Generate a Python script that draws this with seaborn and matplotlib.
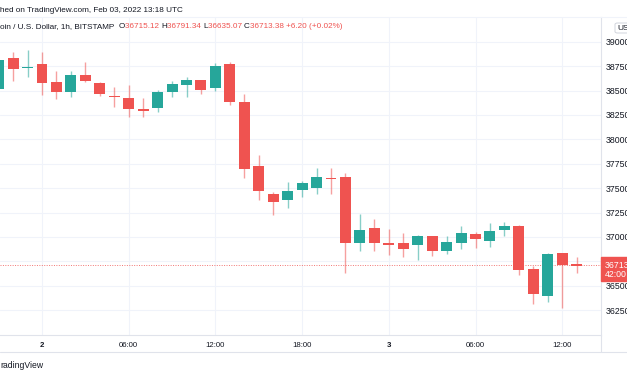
import matplotlib
matplotlib.use("Agg")
import matplotlib.pyplot as plt
from matplotlib.lines import Line2D
from matplotlib.patches import Rectangle, FancyBboxPatch
import numpy as np
import pandas as pd
import seaborn as sns

# BTC/USD 1h candles, hours counted from Feb 2 00:00 UTC
hours = list(range(-3, 38))
opens = [38515, 38830, 38733, 38768, 38584, 38481, 38659, 38574, 38444, 38426,
         38310, 38323, 38488, 38556, 38604, 38522, 38768, 38385, 37723, 37436,
         37377, 37480, 37497, 37606, 37610, 36940, 37087, 36934, 36934, 36916,
         37008, 36855, 36934, 37029, 36957, 37070, 37114, 36670, 36397, 36831,
         36715.12]
highs = [38830, 38891, 38915, 38891, 38703, 38700, 38789, 38584, 38533, 38556,
         38420, 38505, 38597, 38638, 38604, 38779, 38795, 38461, 37839, 37456,
         37565, 37575, 37702, 37702, 37651, 37234, 37180, 37080, 37036, 37016,
         37008, 37008, 37114, 37046, 37145, 37149, 37121, 36701, 36831, 36831,
         36791.34]
lows = [38500, 38597, 38641, 38454, 38410, 38436, 38590, 38447, 38334, 38225,
        38225, 38282, 38430, 38430, 38464, 38498, 38351, 37606, 37377, 37224,
        37299, 37411, 37436, 37436, 36632, 36855, 36855, 36814, 36796, 36760,
        36804, 36821, 36875, 36882, 36899, 37012, 36609, 36311, 36329, 36273,
        36635.07]
closes = [38812, 38720, 38742, 38580, 38481, 38659, 38597, 38464, 38430, 38307,
          38292, 38488, 38563, 38604, 38502, 38751, 38385, 37692, 37470, 37360,
          37470, 37548, 37610, 37590, 36934, 37070, 36934, 36917, 36875, 37008,
          36855, 36950, 37036, 36975, 37063, 37111, 36660, 36411, 36821, 36707.18,
          36713.38]

price_ticks = [36250, 36500, 36750, 37000, 37250, 37500, 37750, 38000, 38250, 38500, 38750, 39000]
time_ticks = [0, 6, 12, 18, 24, 30, 36]
time_labels = ["2", "06:00", "12:00", "18:00", "3", "06:00", "12:00"]

UP = "#26a69a"
DOWN = "#ef5350"
TXT = "#131722"
GRID = "#f0f3fa"
BORDER = "#e0e3eb"

sns.set_theme(style="white")
plt.rcParams["font.family"] = ["Liberation Sans", "DejaVu Sans"]

W, H = 627, 376
fig = plt.figure(figsize=(6.27, 3.76), dpi=100)
fig.patch.set_facecolor("white")


def fx(px):
    return px / W


def fy(py):
    return 1 - py / H


# pane geometry (pixels)
PANE_TOP, PANE_BOTTOM, PANE_RIGHT = 17, 335, 601
ax = fig.add_axes([0, fy(PANE_BOTTOM), fx(PANE_RIGHT), (PANE_BOTTOM - PANE_TOP) / H])
ax.set_facecolor("white")

px_per_hour = 14.45
x_day2 = 42
ax.set_xlim(-x_day2 / px_per_hour, (PANE_RIGHT - x_day2) / px_per_hour)
usd_per_px = 250 / 24.4
y_39000 = 41.7
ax.set_ylim(39000 - (PANE_BOTTOM - y_39000) * usd_per_px, 39000 + (y_39000 - PANE_TOP) * usd_per_px)

df = pd.DataFrame({"hour": hours, "open": opens, "high": highs, "low": lows, "close": closes})
df["up"] = df["close"] >= df["open"]
body_col = np.where(df["up"], UP, DOWN)
body_h = np.maximum((df["close"] - df["open"]).abs(), 14)
body_bot = np.minimum(df["open"], df["close"])
body_bot = np.where((df["close"] - df["open"]).abs() < 14, body_bot - 7, body_bot)

ax.vlines(df["hour"], df["low"], df["high"], colors=body_col, lw=1, alpha=0.55, zorder=2)
ax.bar(df["hour"], body_h, bottom=body_bot, width=0.76, color=body_col, lw=0, zorder=3)

# last price line
ax.axhline(closes[-1], color=DOWN, lw=0.7, ls=(0, (1, 1.5)), alpha=0.8, zorder=1)

# grid + axes
ax.set_yticks(price_ticks)
ax.set_xticks(time_ticks)
ax.grid(True, color=GRID, lw=0.8, zorder=0)
ax.yaxis.tick_right()
ax.set_yticklabels([f"{p:.2f}" for p in price_ticks])
ax.set_xticklabels(time_labels)
ax.tick_params(axis="y", length=0, pad=3.5, labelsize=6.3, labelcolor=TXT)
ax.tick_params(axis="x", length=0, pad=5, labelsize=5.6, labelcolor=TXT)
for lab in ax.get_xticklabels():
    if lab.get_text() in ("2", "3"):
        lab.set_fontweight("bold")
for side in ("left", "top"):
    ax.spines[side].set_visible(False)
for side in ("bottom", "right"):
    ax.spines[side].set_color(BORDER)
    ax.spines[side].set_linewidth(0.8)

# chart frame below the time scale
fig.add_artist(Line2D([0, 1], [fy(352), fy(352)], color=BORDER, lw=0.8, transform=fig.transFigure))
fig.add_artist(Line2D([fx(PANE_RIGHT), fx(PANE_RIGHT)], [fy(PANE_BOTTOM), fy(352)],
                      color=BORDER, lw=0.8, transform=fig.transFigure))
fig.add_artist(Line2D([0, 1], [fy(PANE_TOP), fy(PANE_TOP)], color=GRID, lw=0.8, transform=fig.transFigure))

# last price label on the price scale
fig.add_artist(Rectangle((fx(PANE_RIGHT), fy(281)), fx(W - PANE_RIGHT), 24 / H,
                         transform=fig.transFigure, color=DOWN, zorder=5))
fig.text(fx(605), fy(266), f"{closes[-1]:.2f}", color="white", fontsize=6.3, va="center", zorder=6)
fig.text(fx(605), fy(274.5), "42:00", color="white", fontsize=6.3, va="center", zorder=6)

# currency button
fig.add_artist(FancyBboxPatch((fx(615), fy(33)), fx(16), 10 / H, boxstyle="round,pad=0,rounding_size=0.004",
                              transform=fig.transFigure, facecolor="white", edgecolor="#d1d4dc", lw=0.7))
fig.text(fx(617), fy(28), "USD", color=TXT, fontsize=6, va="center")

# header
fig.text(fx(0), fy(10), "hed on TradingView.com, Feb 03, 2022 13:18 UTC", color=TXT, fontsize=5.9, va="center")

change = closes[-1] - closes[-2]
pct = change / closes[-2] * 100
pieces = [("oin / U.S. Dollar, 1h, BITSTAMP  ", TXT), ("O", TXT), (f"{opens[-1]:.2f} ", DOWN),
          ("H", TXT), (f"{highs[-1]:.2f} ", DOWN), ("L", TXT), (f"{lows[-1]:.2f} ", DOWN),
          ("C", TXT), (f"{closes[-1]:.2f} ", DOWN), (f"{change:+.2f} ({pct:+.2f}%)", DOWN)]
renderer = fig.canvas.get_renderer()
xpos = 0
for s, c in pieces:
    t = fig.text(fx(xpos), fy(27), s, color=c, fontsize=5.9, va="center")
    bb = t.get_window_extent(renderer=renderer)
    xpos += bb.width

fig.text(fx(0), fy(365), "radingView", color=TXT, fontsize=6.2, va="center")

fig.savefig("out.png", dpi=100, facecolor="white")
